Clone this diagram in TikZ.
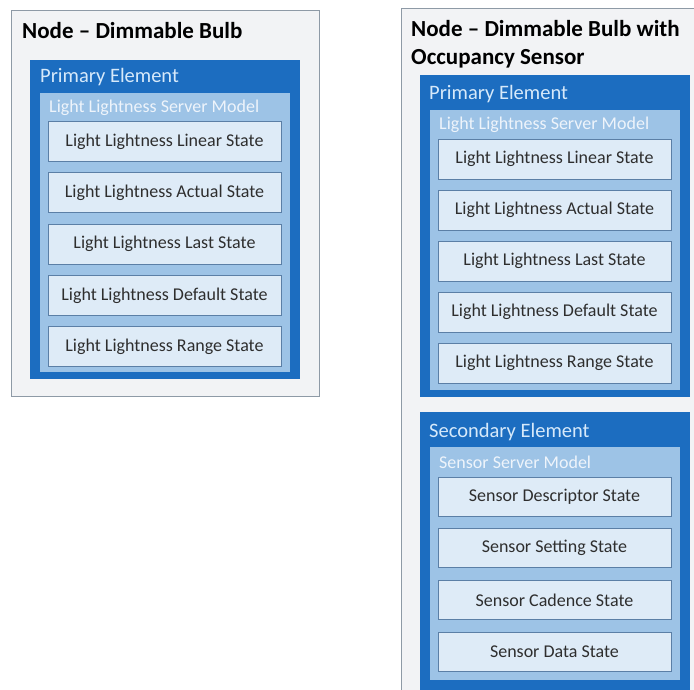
\documentclass[tikz,border=0pt]{standalone}
\usepackage{fontspec}
\setmainfont{Carlito}
\definecolor{nodegray}{HTML}{F2F3F5}
\definecolor{nodeline}{HTML}{8E9AA6}
\definecolor{elemblue}{HTML}{1C6DC0}
\definecolor{modelblue}{HTML}{9DC3E6}
\definecolor{statefill}{HTML}{DEEBF7}
\definecolor{stateline}{HTML}{5B7FA6}
\definecolor{elemtext}{HTML}{D6E9FA}
\definecolor{modeltext}{HTML}{EEF4FB}
\begin{document}
\begin{tikzpicture}[x=1pt,y=-1pt,
  nodebox/.style={draw=nodeline, fill=nodegray, line width=1pt, anchor=north west, inner sep=0pt},
  elembox/.style={fill=elemblue, anchor=north west, inner sep=0pt, minimum width=270pt},
  modelbox/.style={fill=modelblue, anchor=north west, inner sep=0pt, minimum width=250pt},
  statebox/.style={draw=stateline, fill=statefill, line width=0.8pt, minimum width=233pt, minimum height=40pt, inner sep=0pt, font=\fontsize{18}{21}\selectfont, text=black!82},
  titletext/.style={anchor=west, font=\fontsize{23}{28}\selectfont\bfseries, inner sep=0pt},
  elemtext/.style={anchor=west, font=\fontsize{20.5}{24}\selectfont, text=elemtext, inner sep=0pt},
  modeltext/.style={anchor=west, font=\fontsize{18}{21}\selectfont, text=modeltext, inner sep=0pt}]
\useasboundingbox (0,0) rectangle (694,690);
\fill[white] (0,0) rectangle (694,690);

% Node - Dimmable Bulb
\node[nodebox, minimum width=308pt, minimum height=386pt] (bulb) at (11,10) {};
\node[titletext] (bulbtitle) at (22,31) {Node – Dimmable Bulb};
\node[elembox, minimum height=319pt] (bulbprim) at (30,60) {};
\node[elemtext] (bulbprimtxt) at (40,77) {Primary Element};
\node[modelbox, minimum height=279pt] (bulbmodel) at (40,93) {};
\node[modeltext] (bulbmodeltxt) at (49,108) {Light Lightness Server Model};
\foreach \name [count=\i from 0] in {Linear, Actual, Last, Default, Range}
  \node[statebox] (bulbstate\i) at (164.5, {141.5+51.3*\i}) {Light Lightness \name\ State};

% Node - Dimmable Bulb with Occupancy Sensor
\node[nodebox, minimum width=320pt, minimum height=700pt] (sensor) at (401,8) {};
\node[titletext, align=left] (sensortitle) at (411,44) {Node – Dimmable Bulb with\\Occupancy Sensor};
\node[elembox, minimum height=322pt] (sensorprim) at (420,75) {};
\node[elemtext] (sensorprimtxt) at (429,94) {Primary Element};
\node[modelbox, minimum height=280pt] (sensormodel) at (430,110) {};
\node[modeltext] (sensormodeltxt) at (439,125) {Light Lightness Server Model};
\foreach \name [count=\i from 0] in {Linear, Actual, Last, Default, Range}
  \node[statebox] (sensorstate\i) at (554.5, {159+51*\i}) {Light Lightness \name\ State};

\node[elembox, minimum height=290pt] (sensorsec) at (420,412) {};
\node[elemtext] (sensorsectxt) at (429,432) {Secondary Element};
\node[modelbox, minimum height=233pt] (sensormodelb) at (430,447) {};
\node[modeltext] (sensormodelbtxt) at (439,462) {Sensor Server Model};
\foreach \name [count=\i from 0] in {Descriptor, Setting, Cadence, Data}
  \node[statebox, minimum height=39pt] (sensorsecstate\i) at (554.5, {496.5+51.7*\i}) {Sensor \name\ State};
\end{tikzpicture}
\end{document}
